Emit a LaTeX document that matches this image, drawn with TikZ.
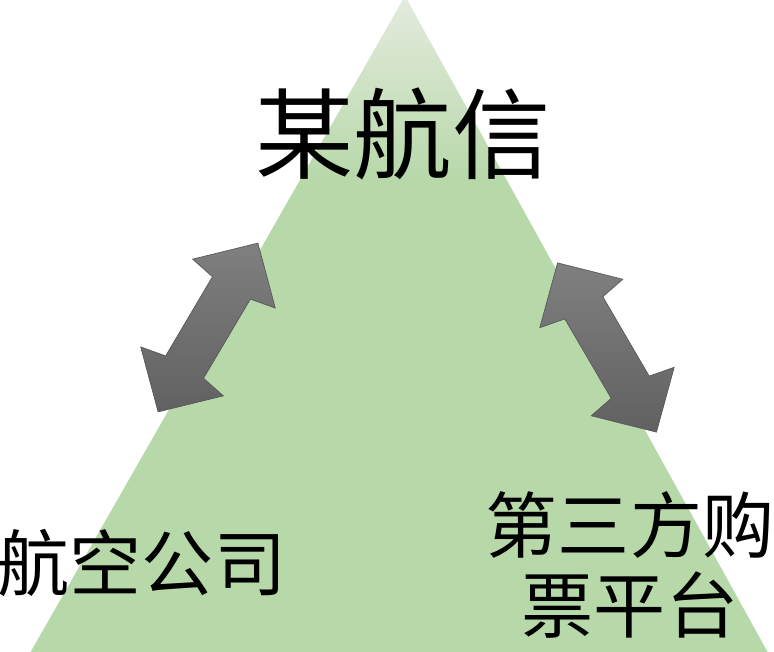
\documentclass[tikz,border=0pt]{standalone}
\usepackage{fontspec}
\usepackage{xcolor}
\usepackage{tikz}
\newfontfamily\cjk{Noto Sans CJK SC}

\definecolor{trigreen}{HTML}{B7D8A9}
\definecolor{tritop}{HTML}{E4EBDE}
\pgfdeclareverticalshading{trifade}{100bp}{color(0bp)=(trigreen); color(61bp)=(trigreen);
  color(75bp)=(tritop); color(100bp)=(tritop)}

\tikzset{
  cjklabel/.style={font=\cjk, inner sep=0pt, align=center},
  swaparrow/.pic={
    \shade[draw=black!65, line width=0.4pt, top color=black!50, bottom color=black!62]
      (98,0) -- (51,48) -- (46,22) -- (-46,22) -- (-51,48) -- (-98,0)
      -- (-51,-48) -- (-46,-22) -- (46,-22) -- (51,-48) -- cycle;
  }
}

\begin{document}
\begin{tikzpicture}[x=0.02cm, y=-0.02cm]
  \useasboundingbox (0,0) rectangle (774,652);

  % ── Triangle ─────────────────────────────────────────
  \begin{scope}
    \clip (0,0) rectangle (774,652);
    \shade[shading=trifade] (405,-4) -- (772,660) -- (26,660) -- cycle;
  \end{scope}

  % ── Labels ───────────────────────────────────────────
  \node[cjklabel, font=\cjk\fontsize{56}{60}\selectfont] (xinhang) at (403,134) {某航信};
  \node[cjklabel, font=\cjk\fontsize{41}{46}\selectfont] (airline) at (142,563) {航空公司};
  \node[cjklabel, font=\cjk\fontsize{41}{46}\selectfont] (platform) at (630,565)
    {第三方购\\票平台};

  % ── Two-way arrows ───────────────────────────────────
  \pic[rotate=59.4] (leftarrow) at (208,327.5) {swaparrow};
  \pic[rotate=-59.7] (rightarrow) at (607,347.5) {swaparrow};
\end{tikzpicture}
\end{document}
